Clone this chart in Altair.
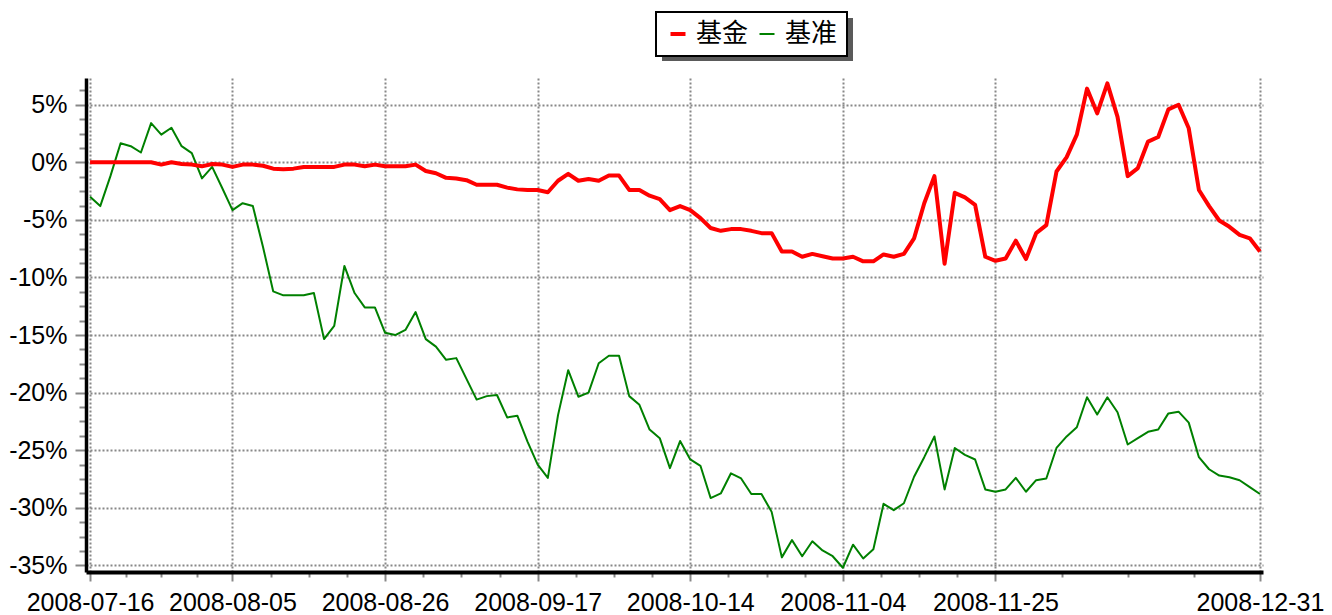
import altair as alt
import pandas as pd

# --- data ---
tick_idx = [0, 14, 29, 44, 59, 74, 89, 115]
tick_labels = ["2008-07-16", "2008-08-05", "2008-08-26", "2008-09-17",
               "2008-10-14", "2008-11-04", "2008-11-25", "2008-12-31"]
series_names = ["基金", "基准"]
series_colors = ["#ff0000", "#008000"]

fund = [0, 0, 0, 0, 0, 0, 0, -0.2, 0.0, -0.15,
        -0.2, -0.35, -0.15, -0.2, -0.4, -0.2, -0.2, -0.3, -0.55, -0.6,
        -0.55, -0.4, -0.4, -0.4, -0.4, -0.2, -0.2, -0.35, -0.2, -0.35,
        -0.35, -0.35, -0.2, -0.75, -0.95, -1.35, -1.4, -1.55, -1.95, -1.95,
        -1.95, -2.2, -2.35, -2.4, -2.4, -2.6, -1.6, -1.0, -1.6, -1.45,
        -1.6, -1.15, -1.15, -2.4, -2.4, -2.9, -3.2, -4.15, -3.8, -4.15,
        -4.85, -5.7, -5.95, -5.8, -5.8, -5.95, -6.15, -6.15, -7.75, -7.75,
        -8.2, -7.95, -8.15, -8.35, -8.35, -8.2, -8.6, -8.6, -8.0, -8.2,
        -7.95, -6.6, -3.55, -1.2, -8.8, -2.65, -3.05, -3.7, -8.2, -8.55,
        -8.35, -6.8, -8.4, -6.15, -5.45, -0.8, 0.45, 2.4, 6.4, 4.25,
        6.85, 3.95, -1.2, -0.5, 1.8, 2.2, 4.6, 5.0, 2.95, -2.4,
        -3.8, -5.05, -5.6, -6.3, -6.6, -7.75]

bench = [-3.0, -3.8, -1.2, 1.65, 1.4, 0.85, 3.4, 2.4, 3.0, 1.4,
         0.8, -1.4, -0.4, -2.25, -4.15, -3.55, -3.8, -7.35, -11.2, -11.55,
         -11.55, -11.55, -11.35, -15.35, -14.2, -9.0, -11.35, -12.6, -12.6, -14.8,
         -15.0, -14.55, -13.0, -15.35, -16.0, -17.15, -17.0, -18.8, -20.6, -20.3,
         -20.2, -22.15, -22.0, -24.25, -26.25, -27.4, -21.95, -18.05, -20.35, -20.0,
         -17.45, -16.8, -16.8, -20.3, -21.05, -23.2, -23.95, -26.55, -24.2, -25.8,
         -26.35, -29.15, -28.75, -27.0, -27.45, -28.8, -28.8, -30.35, -34.3, -32.8,
         -34.2, -32.9, -33.7, -34.2, -35.2, -33.2, -34.4, -33.6, -29.65, -30.2,
         -29.6, -27.3, -25.6, -23.8, -28.4, -24.8, -25.4, -25.8, -28.4, -28.6,
         -28.4, -27.4, -28.6, -27.6, -27.45, -24.8, -23.8, -23.0, -20.4, -21.9,
         -20.4, -21.7, -24.5, -23.95, -23.4, -23.2, -21.8, -21.65, -22.6, -25.6,
         -26.65, -27.2, -27.35, -27.6, -28.2, -28.8]

n = len(fund)
idx = list(range(n))
df = pd.DataFrame({
    "i": idx + idx,
    "v": bench + fund,
    "s": [series_names[1]] * n + [series_names[0]] * n,
})

# axis tick positions: majors at labelled trading days, 3 minor ticks between
x_vals = []
for a, b in zip(tick_idx[:-1], tick_idx[1:]):
    for k in range(4):
        x_vals.append(a + (b - a) * k / 4)
x_vals.append(tick_idx[-1])
y_vals = [-35 + 1.25 * k for k in range(34)]

maj_arr = "[" + ",".join(str(t) for t in tick_idx) + "]"
lab_arr = "[" + ",".join("'" + t + "'" for t in tick_labels) + "]"
x_major = f"indexof({maj_arr}, datum.value) >= 0"
x_label_expr = f"{x_major} ? {lab_arr}[indexof({maj_arr}, datum.value)] : ''"
y_major = "datum.value % 5 == 0"

GRID = "#888888"
FONT = "Liberation Sans"

x_axis = alt.Axis(
    values=x_vals, labelExpr=x_label_expr, title=None,
    grid=True, gridColor=GRID, gridDash=[2, 2], gridWidth=2,
    gridOpacity={"condition": {"test": x_major, "value": 1}, "value": 0},
    ticks=True, tickColor=GRID, tickWidth=2,
    tickSize={"condition": {"test": x_major, "value": 9}, "value": 5},
    domainColor="black", domainWidth=4,
    labelFont=FONT, labelFontSize=25, labelColor="black", labelPadding=9,
    labelFlush=False, labelOverlap=False, labelBound=False,
)
y_axis = alt.Axis(
    values=y_vals, labelExpr=f"{y_major} ? datum.value + '%' : ''", title=None,
    grid=True, gridColor=GRID, gridDash=[2, 2], gridWidth=2,
    gridOpacity={"condition": {"test": y_major, "value": 1}, "value": 0},
    ticks=True, tickColor=GRID, tickWidth=2,
    tickSize={"condition": {"test": y_major, "value": 11}, "value": 7},
    domainColor="black", domainWidth=3.5,
    labelFont=FONT, labelFontSize=25, labelColor="black", labelPadding=8,
    labelOverlap=False, minExtent=78, maxExtent=78,
)

legend = alt.Legend(
    title=None, orient="none", legendX=570, legendY=-66, direction="horizontal",
    symbolType="stroke", symbolSize=225, symbolOffset=0,
    labelFont="Noto Sans CJK SC", labelFontSize=26, labelColor="black",
    labelOffset=5, columnPadding=5, padding=9,
    fillColor="white", strokeColor="black",
)

lines = alt.Chart(df).mark_line(strokeJoin="round").encode(
    x=alt.X("i:Q", scale=alt.Scale(domain=[-0.4, 115.3], nice=False, zero=False), axis=x_axis),
    y=alt.Y("v:Q", scale=alt.Scale(domain=[-35.57, 7.32], nice=False, zero=False), axis=y_axis),
    color=alt.Color("s:N", scale=alt.Scale(domain=series_names, range=series_colors), legend=legend),
    strokeWidth=alt.StrokeWidth("s:N", scale=alt.Scale(domain=series_names, range=[4, 2]), legend=legend),
    detail="s:N",
)

shadow = alt.Chart(pd.DataFrame({"k": [0]})).mark_rect(color="#5a5a5a").encode(
    x=alt.value(576), x2=alt.value(767), y=alt.value(-60), y2=alt.value(-17)
)

chart = alt.layer(shadow, lines).properties(
    width=1316, height=494,
    padding={"left": 0, "top": 10, "right": 0, "bottom": 0},
    autosize=alt.AutoSizeParams(type="fit-x", contains="padding"),
).configure_view(strokeOpacity=0).configure_legend(strokeWidth=2)

chart.save("out.html", embed_options={"renderer": "svg", "actions": False})
